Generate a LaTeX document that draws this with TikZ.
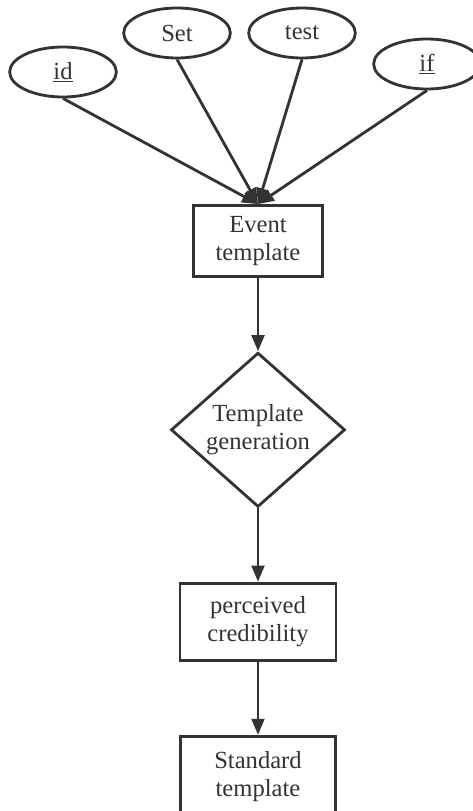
\documentclass[tikz,border=0pt]{standalone}
\usepackage{fontspec}
\setmainfont{Liberation Serif}
\usetikzlibrary{positioning,shapes.geometric,arrows.meta}
\definecolor{linegray}{rgb}{0.2,0.2,0.2}
\tikzset{
	->,
	>={Triangle[length=0.48cm,width=0.38cm]},
	node distance=2.2cm,
	every node/.style={font=\fontsize{21}{24}\selectfont, text=linegray},
	attr/.style={ellipse, draw=linegray, line width=2.4pt, minimum width=3.2cm, minimum height=1.5cm, inner sep=0pt},
	procbox/.style={rectangle, draw=linegray, line width=2.4pt, align=center},
	decision/.style={diamond, draw=linegray, line width=2.4pt, align=center, minimum width=5.22cm, minimum height=4.53cm, inner sep=0pt},
	flow/.style={line width=2.4pt, draw=linegray},
}

\begin{document}
\begin{tikzpicture}
        \useasboundingbox (0,0) rectangle (14.16,-24.33);
        % attributes
        \node[attr] (id) at (1.89,-2.16) {\underline{id}};
        \node[attr] (set) at (5.31,-0.99) {Set};
        \node[attr] (test) at (9.06,-0.99) {test};
        \node[attr] (if) at (12.81,-1.92) {\underline{if}};

        % main flow
        \node[procbox, minimum width=3.87cm, minimum height=2.13cm] (event) at (7.74,-7.23) {Event\\template};
        \node[decision, below=of event] (gen) {Template\\generation};
        \node[procbox, minimum width=4.68cm, minimum height=2.31cm, below=of gen] (cred) {perceived\\credibility};
        \node[procbox, minimum width=4.65cm, minimum height=2.4cm, below=of cred] (std) {Standard\\template};

        \draw[flow] (id.south) -- (event.north);
        \draw[flow] (set.south) -- (event.north);
        \draw[flow] (test.south) -- (event.north);
        \draw[flow] (if.south) -- (event.north);
        \draw[flow] (event) -- (gen);
        \draw[flow] (gen) -- (cred);
        \draw[flow] (cred) -- (std);
    \end{tikzpicture}
\end{document}
